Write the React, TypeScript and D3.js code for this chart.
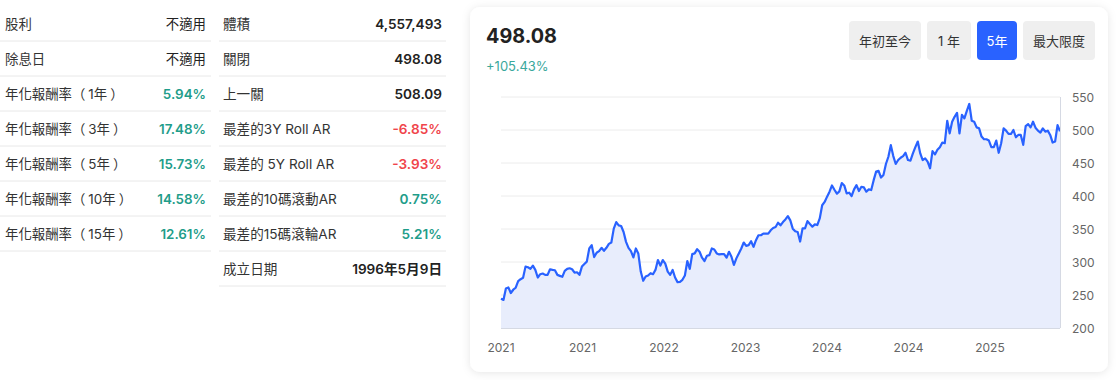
import React from "react";
import * as d3 from "d3";

const leftLabels = ["股利", "除息日", "年化報酬率（1年）", "年化報酬率（3年）", "年化報酬率（5年）", "年化報酬率（10年）", "年化報酬率（15年）"];
const leftValues = ["不適用", "不適用", "5.94%", "17.48%", "15.73%", "14.58%", "12.61%"];
const midLabels = ["體積", "關閉", "上一關", "最差的3Y Roll AR", "最差的 5Y Roll AR", "最差的10碼滾動AR", "最差的15碼滾輪AR", "成立日期"];
const midValues = ["4,557,493", "498.08", "508.09", "-6.85%", "-3.93%", "0.75%", "5.21%", "1996年5月9日"];

const headerPrice = "498.08";
const headerChange = "+105.43%";
const rangeButtons = ["年初至今", "1 年", "5年", "最大限度"];
const activeButton = "5年";

const yTicks = [200, 250, 300, 350, 400, 450, 500, 550];
const xTickLabels = ["2021", "2021", "2022", "2023", "2024", "2024", "2025"];

const prices = [
  244.5, 242.5, 260, 261.5, 253, 258, 261, 271, 274, 276, 293, 292, 289.5, 294.5, 288, 276.5, 281.5, 282.5, 280.5, 280.5,
  289, 288, 287.5, 280.5, 279, 277.5, 286.5, 289.5, 290.5, 289, 284, 284.5, 280.5, 293, 297, 300.5, 320.5, 325.5, 307.5, 314,
  316.5, 321.5, 317, 321.5, 327.5, 329.5, 350.5, 360.5, 355.5, 354.5, 345.5, 330.5, 321.5, 316.5, 307, 320.5, 313, 285.5, 271.5, 278,
  279.5, 283, 281.5, 288, 303, 294.5, 303, 297.5, 285.5, 280.5, 288, 276.5, 269.5, 270, 273, 279.5, 301.5, 289.5, 312, 313,
  319.5, 315.5, 306.5, 301.5, 309.5, 310.5, 320.5, 319, 313, 311.5, 312, 312, 306.5, 315.5, 308, 295.5, 305.5, 313, 320.5, 329.5,
  324.5, 325.5, 331.5, 323, 333, 340.5, 340.5, 343, 343, 343, 348, 351.5, 353, 359.5, 355.5, 360.5, 364.5, 369.5, 363, 350.5,
  346.5, 345.5,
  331, 351, 351, 362, 357.5, 353.5, 357, 356, 366, 386, 391, 399, 406.5, 416, 409.5, 403.5, 407, 419.5, 416, 404,
  405, 400, 410, 416.5, 407.5, 414, 413, 406.5, 410, 409, 424, 437, 438, 428, 432, 448.5, 459.5, 477, 460.5, 448.5,
  454.5, 458, 460.5, 465.5, 454.5, 453.5, 464.5, 474, 482.5, 464.5, 454.5, 457, 452, 442, 468, 463, 470, 474, 481, 480,
  514, 495, 512.5, 520, 526, 495, 523, 517.5, 529, 539.5, 514, 512.5, 504, 502.5, 490, 486, 486, 484, 474, 474,
  484, 465.5, 480, 502.5, 499, 494, 494, 500, 489, 492.5, 492.5, 477.5, 506, 509, 504, 512.5, 503.5, 499, 496, 502.5,
  497.5, 499, 492.5, 481, 482.5, 507.5, 498.08,
];

const FONT = "Inter, 'Noto Sans CJK TC', 'Noto Sans', sans-serif";
const TEAL = "#1f9d8a";
const RED = "#f0444b";
const BLUE = "#2962ff";

function valueColor(v: string): string {
  if (v.endsWith("%")) return v.startsWith("-") ? RED : TEAL;
  return "#222";
}

function LabelText({ s }: { s: string }) {
  const parts = s.split(/([（）])/).filter((p) => p.length > 0);
  let afterOpen = false;
  return (
    <>
      {parts.map((p, i) => {
        let dx = 0;
        if (afterOpen) dx = 3;
        if (p === "）") dx = 3;
        afterOpen = p === "（";
        return <tspan key={i} dx={dx}>{p}</tspan>;
      })}
    </>
  );
}

export default function App() {
  const W = 1119;
  const H = 380;
  const plot = { left: 501, right: 1060, top: 97, bottom: 328 };
  const x = d3.scaleLinear().domain([0, prices.length - 1]).range([plot.left, plot.right]);
  const y = d3.scaleLinear().domain([200, 550]).range([plot.bottom, plot.top]);
  const line = d3.line<number>().x((_, i) => x(i)).y((d) => y(d)).curve(d3.curveLinear);
  const area = d3.area<number>().x((_, i) => x(i)).y0(plot.bottom).y1((d) => y(d));
  const tickStep = ((prices.length - 1) * 81.5) / (plot.right - plot.left);

  const rowH = 35;
  const rowY0 = 24;

  const btnX = [849, 927, 977, 1023];
  const btnW = [72, 44, 40, 72];

  const trimStyle = { textSpacingTrim: "space-all" } as any;

  return (
    <svg width={W} height={H} style={{ position: "absolute", left: 0, top: 0, fontFamily: FONT }}>
      <defs>
        <filter id="sh" x="-10%" y="-10%" width="120%" height="120%">
          <feDropShadow dx="0" dy="1" stdDeviation="4" floodColor="#000" floodOpacity="0.1" />
        </filter>
      </defs>
      <rect x={0} y={0} width={W} height={H} fill="#fff" />

      {/* left table */}
      {leftLabels.map((l, i) => (
        <g key={"l" + i}>
          <text x={5} y={rowY0 + i * rowH} dominantBaseline="central" fontSize={13.4} fill="#333" style={trimStyle}><LabelText s={l} /></text>
          <text x={206} y={rowY0 + i * rowH} dominantBaseline="central" textAnchor="end" fontSize={13.4}
            fontWeight={leftValues[i].endsWith("%") ? 600 : 400} fill={valueColor(leftValues[i])}>{leftValues[i]}</text>
          <line x1={0} x2={211} y1={41 + i * rowH} y2={41 + i * rowH} stroke="#e8e8e8" />
        </g>
      ))}

      {/* middle table */}
      {midLabels.map((l, i) => (
        <g key={"m" + i}>
          <text x={223} y={rowY0 + i * rowH} dominantBaseline="central" fontSize={13.6} fill="#333">{l}</text>
          <text x={442} y={rowY0 + i * rowH} dominantBaseline="central" textAnchor="end" fontSize={13.6}
            fontWeight={600} fill={valueColor(midValues[i])}>{midValues[i]}</text>
          <line x1={219} x2={446} y1={41 + i * rowH} y2={41 + i * rowH} stroke="#e8e8e8" />
        </g>
      ))}

      {/* card */}
      <rect x={470} y={7} width={638} height={365} rx={10} fill="#fff" filter="url(#sh)" />
      <text x={486} y={43} fontSize={19.8} fontWeight={700} fill="#222">{headerPrice}</text>
      <text x={486} y={71} fontSize={13} fill="#3aa89c">{headerChange}</text>

      {rangeButtons.map((b, i) => {
        const active = b === activeButton;
        return (
          <g key={"b" + i}>
            <rect x={btnX[i]} y={21} width={btnW[i]} height={39} rx={4} fill={active ? BLUE : "#efefef"} />
            <text x={btnX[i] + btnW[i] / 2} y={41} textAnchor="middle" dominantBaseline="central" fontSize={13}
              fill={active ? "#fff" : "#333"}>{b}</text>
          </g>
        );
      })}

      {/* grid */}
      {yTicks.map((t) => (
        <line key={"g" + t} x1={plot.left} x2={plot.right} y1={y(t)} y2={y(t)} stroke="#ececec" />
      ))}
      <path d={area(prices) || ""} fill="#e8edfc" />
      <path d={line(prices) || ""} fill="none" stroke={BLUE} strokeWidth={2.2} strokeLinejoin="round" />
      <line x1={plot.left} x2={plot.right} y1={plot.bottom + 0.5} y2={plot.bottom + 0.5} stroke="#d5d9e3" />
      <line x1={plot.right + 0.5} x2={plot.right + 0.5} y1={plot.top} y2={plot.bottom} stroke="#d5d9e3" />

      {yTicks.map((t) => (
        <text key={"yt" + t} x={1072} y={y(t)} dominantBaseline="central" fontSize={12} fill="#666">{t}</text>
      ))}
      {xTickLabels.map((l, k) => (
        <text key={"xt" + k} x={x(k * tickStep)} y={347} textAnchor="middle" dominantBaseline="central" fontSize={12} fill="#666">{l}</text>
      ))}
    </svg>
  );
}
